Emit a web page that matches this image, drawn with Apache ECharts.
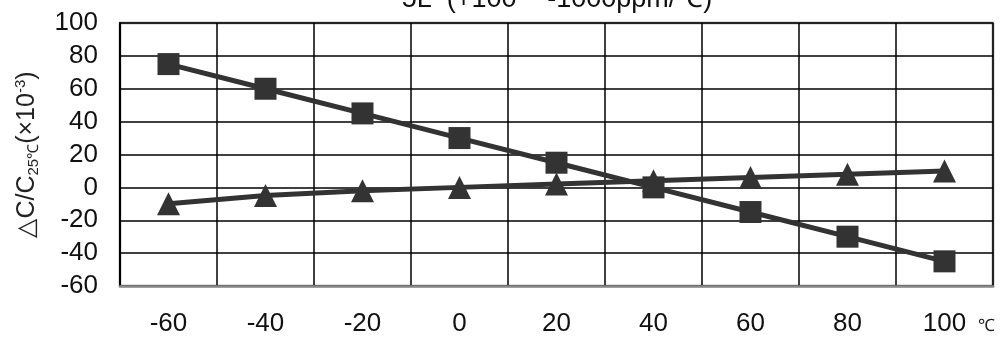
<!DOCTYPE html>
<html><head><meta charset="utf-8">
<script src="https://cdn.jsdelivr.net/npm/echarts@6/dist/echarts.min.js"></script>
<style>html,body{margin:0;padding:0;background:#fff}#c{width:1000px;height:339px}</style>
</head><body><div id="c"></div>
<script>
const categories = ['-60','-40','-20','0','20','40','60','80','100'];
const squareSeries = [75, 60, 45, 30, 15, 0, -15, -30, -45];
const triangleSeries = [-10, -5, -2, 0, 2, 4, 6, 8, 10];
const titleText = '5L  (+100 ~ -1000ppm/℃)';
const unitText = '℃';

const chart = echarts.init(document.getElementById('c'), null, {renderer:'canvas'});
const font = '"Liberation Sans", Arial, sans-serif';
chart.setOption({
  animation: false,
  backgroundColor: '#fff',
  title: {text: titleText, left: 552, textAlign: 'center', top: -19, textStyle:{fontFamily: font, fontSize: 27, fontWeight: 'normal', color:'#111'}},
  graphic: [{type: 'text', left: 978, top: 318, style: {text: unitText, fontSize: 17, fontFamily: font, fill: '#222'}}],
  grid: {left: 120, right: 7, top: 23, bottom: 53, show: true, borderColor: '#8a8a8a', borderWidth: 2.5, backgroundColor: 'transparent', outerBoundsMode: 'none', containLabel: false},
  xAxis: {
    type: 'category', data: categories, boundaryGap: true,
    axisLine: {show: true, onZero: false, lineStyle: {color: '#8a8a8a', width: 2.5}},
    axisTick: {show: false},
    axisLabel: {fontFamily: font, fontSize: 26, color: '#111', margin: 25},
    splitLine: {show: true, interval: 0, lineStyle: {color: '#000', width: 1.5}}
  },
  yAxis: {
    type: 'value', min: -60, max: 100, interval: 20,
    name: '{n|△C/C}{sub|25℃}{n|(×10}{sup|-3}{n|)}',
    nameLocation: 'middle', nameRotate: 90, nameGap: 78,
    nameTextStyle: {
      color: '#222', fontFamily: font,
      rich: {
        n: {fontSize: 25, fontFamily: font, color:'#222'},
        sub: {fontSize: 15, fontFamily: font, color:'#222', padding: [12,0,0,0]},
        sup: {fontSize: 15, fontFamily: font, color:'#222', padding: [0,0,14,0]}
      }
    },
    axisLine: {show: true, lineStyle: {color: '#000', width: 2}},
    axisTick: {show: false},
    axisLabel: {fontFamily: font, fontSize: 26, color: '#111', margin: 22},
    splitLine: {show: true, lineStyle: {color: '#000', width: 1.5}}
  },
  series: [
    {type: 'line', data: squareSeries, symbol: 'rect', symbolSize: 22,
     lineStyle: {color: '#333', width: 5}, itemStyle: {color: '#333'}},
    {type: 'line', data: triangleSeries, symbol: 'triangle', symbolSize: 23,
     lineStyle: {color: '#333', width: 5}, itemStyle: {color: '#333'}}
  ]
});
</script></body></html>
